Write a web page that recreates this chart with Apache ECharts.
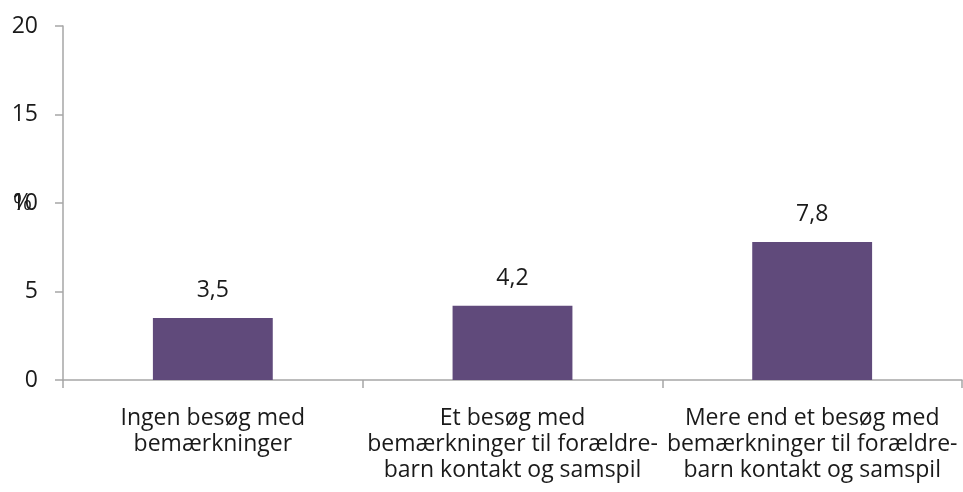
<!DOCTYPE html>
<html>
<head>
<meta charset="utf-8">
<script src="https://cdn.jsdelivr.net/npm/echarts@6/dist/echarts.min.js"></script>
<style>
  html, body { margin: 0; padding: 0; background: #fff; }
  #chart { width: 963px; height: 492px; }
</style>
</head>
<body>
<div id="chart"></div>
<script>
let categories = [
    'Ingen besøg med\nbemærkninger',
    'Et besøg med\nbemærkninger til forældre-\nbarn kontakt og samspil',
    'Mere end et besøg med\nbemærkninger til forældre-\nbarn kontakt og samspil'
];
let values = [3.5, 4.2, 7.8];
let yTicks = [0, 5, 10, 15, 20];

let chart = echarts.init(document.getElementById('chart'), null, { renderer: 'canvas' });

let font = '"Open Sans", "Noto Sans", sans-serif';
let axisColor = '#a6a6a6';
let textColor = '#1a1a1a';

let option = {
    animation: false,
    grid: {
        left: 63,
        right: 1,
        top: 26,
        bottom: 112,
        containLabel: false,
        outerBoundsMode: 'none'
    },
    xAxis: {
        type: 'category',
        data: categories,
        axisLine: { lineStyle: { color: axisColor, width: 1.5 } },
        axisTick: { show: true, length: 8, lineStyle: { color: axisColor, width: 1.5 } },
        axisLabel: {
            interval: 0,
            margin: 25,
            fontSize: 23,
            lineHeight: 26,
            color: textColor,
            fontFamily: font
        }
    },
    yAxis: {
        type: 'value',
        min: yTicks[0],
        max: yTicks[yTicks.length - 1],
        interval: 5,
        name: '%',
        nameLocation: 'middle',
        nameRotate: 0,
        nameGap: 31,
        nameMoveOverlap: false,
        nameTextStyle: { fontSize: 23, color: textColor, fontFamily: font },
        axisLine: { show: true, lineStyle: { color: axisColor, width: 1.5 } },
        axisTick: { show: true, length: 8, lineStyle: { color: axisColor, width: 1.5 } },
        splitLine: { show: false },
        axisLabel: {
            margin: 25,
            fontSize: 23,
            color: textColor,
            fontFamily: font
        }
    },
    series: [
        {
            type: 'bar',
            data: values,
            barWidth: '40%',
            itemStyle: { color: '#604a7b' },
            label: {
                show: true,
                position: 'top',
                distance: 16,
                fontSize: 23,
                color: textColor,
                fontFamily: font,
                formatter: p => String(p.value).replace('.', ',')
            }
        }
    ]
};

chart.setOption(option);
</script>
</body>
</html>
